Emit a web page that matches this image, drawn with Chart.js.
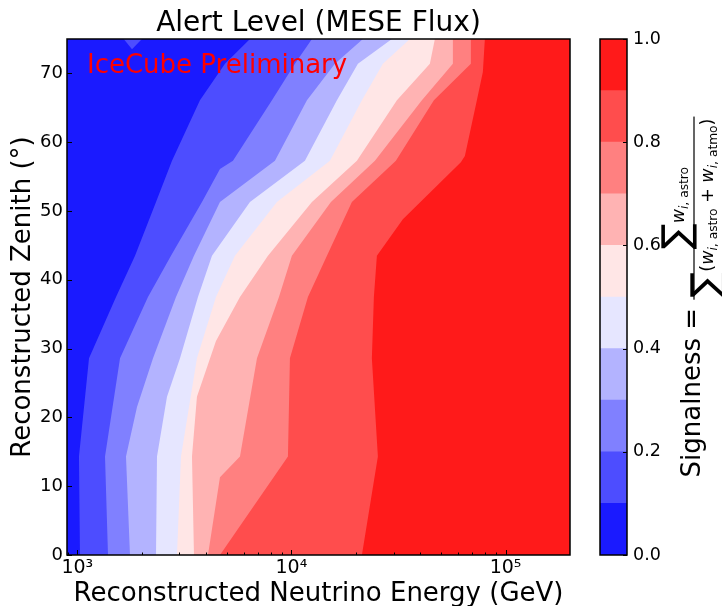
<!DOCTYPE html>
<html>
<head>
<meta charset="utf-8">
<script src="https://cdn.jsdelivr.net/npm/chart.js@4.4.1/dist/chart.umd.min.js"></script>
<style>
  body { margin: 0; background: #fff; }
  #wrap { position: relative; width: 722px; height: 606px; overflow: hidden; }
  #plot { position: absolute; left: 0; top: 0; }
  #cbar { position: absolute; left: 580px; top: 0; }
</style>
</head>
<body>
<div id="wrap">
  <canvas id="plot" width="637" height="606"></canvas>
  <canvas id="cbar" width="142" height="606"></canvas>
</div>
<script>
// contour levels and colours (bwr, 10 bands)
const levels = [0, 0.1, 0.2, 0.3, 0.4, 0.5, 0.6, 0.7, 0.8, 0.9, 1.0];
const bandColors = ['#1a1aff', '#4d4dff', '#8080ff', '#b3b3ff', '#e6e6ff',
                    '#ffe6e6', '#ffb3b3', '#ff8080', '#ff4d4d', '#ff1a1a'];

// axis ranges and ticks
const energyRange = [895, 200000];
const zenithRange = [0, 75];
const xTickValues = [1e3, 1e4, 1e5];
const xTickLabels = ['10³', '10⁴', '10⁵'];
const yTickValues = [0, 10, 20, 30, 40, 50, 60, 70];
const cbTicks = [0, 0.2, 0.4, 0.6, 0.8, 1.0];

// contour boundaries: energy (GeV) where signalness crosses each level, per zenith
const b1Zenith = [0, 14.3, 28.6, 37.5, 43.5, 51.3, 57.3, 66.1, 71.4, 75];
const b1Energy = [1029, 1018, 1134, 1516, 1860, 2331, 2768, 3739, 4892, 6402];

const b2Zenith = [0, 14.3, 28.6, 37.5, 43.5, 51.3, 56.1, 57.3, 66.1, 71.4, 75];
const b2Energy = [1391, 1347, 1583, 2138, 2738, 3821, 4637, 5333, 8110, 10380, 12470];

const b3Zenith = [0, 14.3, 21.5, 28.6, 37.5, 43.5, 51.3, 57.3, 66.1, 71.4, 75];
const b3Energy = [1762, 1688, 1900, 2257, 2890, 3506, 4637, 8376, 11816, 15960, 21570];

const b4Zenith = [0, 14.3, 23, 28.6, 37.5, 43.5, 51.3, 57.3, 66.1, 71.4, 75];
const b4Energy = [2331, 2356, 2623, 3017, 3660, 4255, 6402, 11560, 16310, 20440, 29460];

const b5Zenith = [0, 14.3, 28.6, 37.5, 43.5, 51.3, 57.3, 66.1, 71.4, 75];
const b5Energy = [2921, 3049, 3620, 4442, 5449, 8558, 15130, 21340, 26740, 35740];

const b6Zenith = [0, 14.3, 23, 31.1, 37.5, 43.5, 51.3, 57.3, 66.1, 71.4, 75];
const b6Energy = [3506, 3432, 3620, 4442, 5750, 7769, 12470, 20220, 31090, 44320, 46770];

const b7Zenith = [0, 11.3, 14.3, 28.6, 37.5, 43.5, 51.3, 57.3, 66.1, 71.4, 75];
const b7Energy = [4076, 4637, 5750, 6903, 8744, 10050, 15290, 24540, 40670, 56760, 56760];

const b8Zenith = [0, 14.3, 28.6, 37.5, 43.5, 51.3, 57.3, 66.1, 71.4, 75];
const b8Energy = [4637, 9631, 9840, 11940, 14650, 19160, 30750, 46270, 68870, 68870];

const b9Zenith = [0, 14.3, 28.6, 37.5, 43.5, 48.8, 57.1, 58, 66.1, 70.2, 75];
const b9Energy = [21340, 25340, 23750, 24270, 25070, 33150, 61840, 64570, 73470, 78360, 80060];

// small 0.1-0.2 island at the top edge
const islandZenith = [75, 73.5, 75];
const islandEnergy = [1647, 1801, 2004];

const FONT = '"DejaVu Sans"';
Chart.defaults.font.family = FONT;
Chart.defaults.color = '#000';

// polygons are built from the boundary lists and pushed a bit past the axes
const xOut = energyRange[0] / 2;
const xFar = energyRange[1] * 2;
const zLo = zenithRange[0] - 5;
const zHi = zenithRange[1] + 5;

function leftOf(energy, zenith) {
    const pts = [{x: xOut, y: zLo}, {x: energy[0], y: zLo}];
    energy.forEach((e, i) => pts.push({x: e, y: zenith[i]}));
    pts.push({x: energy[energy.length - 1], y: zHi}, {x: xOut, y: zHi});
    return pts;
}

function band(points, color) {
    return {
        data: points,
        showLine: true,
        fill: 'shape',
        backgroundColor: color,
        borderColor: 'rgba(0,0,0,0)',
        borderWidth: 0,
        pointRadius: 0,
        tension: 0,
        clip: 0
    };
}

const bounds = [
    [b1Energy, b1Zenith], [b2Energy, b2Zenith], [b3Energy, b3Zenith],
    [b4Energy, b4Zenith], [b5Energy, b5Zenith], [b6Energy, b6Zenith],
    [b7Energy, b7Zenith], [b8Energy, b8Zenith], [b9Energy, b9Zenith]
];

// dataset 0 is painted last, so the island goes first and the full red area last
const islandPts = islandEnergy.map((e, i) => ({x: e, y: islandZenith[i]}));
islandPts.push({x: islandEnergy[islandEnergy.length - 1], y: zHi}, {x: islandEnergy[0], y: zHi});

const datasets = [band(islandPts, bandColors[1])];
bounds.forEach(([e, z], i) => datasets.push(band(leftOf(e, z), bandColors[i])));
datasets.push(band([{x: xOut, y: zLo}, {x: xFar, y: zLo}, {x: xFar, y: zHi}, {x: xOut, y: zHi}], bandColors[9]));

// frame, inward ticks and the preliminary tag
const plotDeco = {
    id: 'plotDeco',
    afterDatasetsDraw(chart) {
        const ctx = chart.ctx;
        ctx.save();
        ctx.font = '26px ' + FONT;
        ctx.fillStyle = '#ff0000';
        ctx.textBaseline = 'alphabetic';
        ctx.fillText('IceCube Preliminary', 87, 73);
        ctx.restore();
    },
    afterDraw(chart) {
        const ctx = chart.ctx;
        const a = chart.chartArea;
        const sx = chart.scales.x, sy = chart.scales.y;
        ctx.save();
        ctx.strokeStyle = '#000';
        ctx.lineWidth = 1;
        ctx.beginPath();
        xTickValues.forEach(v => {
            const px = Math.round(sx.getPixelForValue(v)) + 0.5;
            ctx.moveTo(px, a.bottom); ctx.lineTo(px, a.bottom - 5);
        });
        for (let d = 100; d < energyRange[1]; d *= 10) {
            for (let k = 2; k <= 9; k++) {
                const v = k * d;
                if (v <= energyRange[0] || v >= energyRange[1]) continue;
                const px = Math.round(sx.getPixelForValue(v)) + 0.5;
                ctx.moveTo(px, a.bottom); ctx.lineTo(px, a.bottom - 2.5);
            }
        }
        yTickValues.forEach(v => {
            const py = Math.round(sy.getPixelForValue(v)) + 0.5;
            ctx.moveTo(a.left, py); ctx.lineTo(a.left + 5, py);
        });
        ctx.stroke();
        ctx.lineWidth = 1.5;
        ctx.strokeRect(a.left, a.top, a.right - a.left, a.bottom - a.top);
        ctx.restore();
    }
};

new Chart(document.getElementById('plot'), {
    type: 'scatter',
    data: { datasets },
    options: {
        responsive: false,
        animation: false,
        events: [],
        layout: { padding: { left: 0, right: 67, top: 0, bottom: 0 } },
        plugins: {
            legend: { display: false },
            tooltip: { enabled: false },
            title: {
                display: true,
                fullSize: false,
                text: 'Alert Level (MESE Flux)',
                color: '#000',
                font: { size: 28, weight: 'normal', lineHeight: 1 },
                padding: { top: 10, bottom: 1 }
            }
        },
        scales: {
            x: {
                type: 'logarithmic',
                min: energyRange[0],
                max: energyRange[1],
                grid: { display: false, drawTicks: false },
                border: { display: false },
                afterBuildTicks: s => { s.ticks = xTickValues.map(v => ({ value: v })); },
                afterFit: s => { s.height = 51; },
                ticks: {
                    autoSkip: false, maxRotation: 0, padding: 2,
                    font: { size: 19 },
                    callback: (v, i) => xTickLabels[i]
                },
                title: {
                    display: true,
                    text: 'Reconstructed Neutrino Energy (GeV)',
                    font: { size: 26 },
                    padding: { top: 0, bottom: -3.5 }
                }
            },
            y: {
                type: 'linear',
                min: zenithRange[0],
                max: zenithRange[1],
                grid: { display: false, drawTicks: false },
                border: { display: false },
                afterBuildTicks: s => { s.ticks = yTickValues.map(v => ({ value: v })); },
                afterFit: s => { s.width = 67; },
                ticks: { padding: 4, font: { size: 18 }, callback: v => String(v) },
                title: {
                    display: true,
                    text: 'Reconstructed Zenith (°)',
                    font: { size: 26 },
                    padding: { top: 7.6, bottom: 0 }
                }
            }
        }
    },
    plugins: [plotDeco]
});

// ---- colour bar ----
const mainFont = '26px ' + FONT;
const fracFont = '17.5px ' + FONT;
const fracIt = 'italic 17.5px ' + FONT;
const subFont = '12.25px ' + FONT;
const subIt = 'italic 12.25px ' + FONT;

function piecesWidth(ctx, pieces) {
    let w = 0;
    pieces.forEach(p => { ctx.font = p.font; w += ctx.measureText(p.text).width; });
    return w;
}

function drawPieces(ctx, pieces, u, v) {
    pieces.forEach(p => {
        ctx.font = p.font;
        ctx.textBaseline = p.base || 'alphabetic';
        ctx.fillText(p.text, u, v + (p.dv || 0));
        u += ctx.measureText(p.text).width;
    });
}

const cbDeco = {
    id: 'cbDeco',
    afterDraw(chart) {
        const ctx = chart.ctx;
        const a = chart.chartArea;
        const sy = chart.scales.y;
        ctx.save();
        ctx.strokeStyle = '#000';
        ctx.lineWidth = 1;
        ctx.beginPath();
        cbTicks.forEach(v => {
            const py = Math.round(sy.getPixelForValue(v)) + 0.5;
            ctx.moveTo(a.right, py); ctx.lineTo(a.right - 4, py);
        });
        ctx.stroke();
        ctx.lineWidth = 1.5;
        ctx.strokeRect(a.left, a.top, a.right - a.left, a.bottom - a.top);

        // label: Signalness = sum w_astro / sum (w_astro + w_atmo)
        ctx.font = '100px ' + FONT;
        const sigSize = 26 / ctx.measureText('∑').width * 100;
        const sigFont = sigSize.toFixed(1) + 'px ' + FONT;
        const num = [
            { text: '∑', font: sigFont, base: 'middle', dv: -5 },
            { text: 'w', font: fracIt },
            { text: 'i', font: subIt, dv: 4 },
            { text: ', astro', font: subFont, dv: 4 }
        ];
        const den = [
            { text: '∑', font: sigFont, base: 'middle', dv: -5 },
            { text: '(', font: fracFont },
            { text: 'w', font: fracIt },
            { text: 'i', font: subIt, dv: 4 },
            { text: ', astro', font: subFont, dv: 4 },
            { text: ' + ', font: fracFont },
            { text: 'w', font: fracIt },
            { text: 'i', font: subIt, dv: 4 },
            { text: ', atmo', font: subFont, dv: 4 },
            { text: ')', font: fracFont }
        ];
        const barX = 114;
        const cy = (a.top + a.bottom) / 2;
        ctx.translate(barX, cy);
        ctx.rotate(-Math.PI / 2);
        ctx.fillStyle = '#000';
        ctx.font = mainFont;
        const lead = 'Signalness = ';
        const leadW = ctx.measureText(lead).width;
        const numW = piecesWidth(ctx, num);
        const denW = piecesWidth(ctx, den);
        const fracW = Math.max(numW, denW) + 4;
        const u0 = -(leadW + fracW) / 2;
        ctx.font = mainFont;
        ctx.textBaseline = 'alphabetic';
        ctx.fillText(lead, u0, 6);
        const f0 = u0 + leadW;
        ctx.fillRect(f0, -0.6, fracW, 1.2);
        drawPieces(ctx, num, f0 + (fracW - numW) / 2, -10);
        drawPieces(ctx, den, f0 + (fracW - denW) / 2, 19);
        ctx.restore();
    }
};

new Chart(document.getElementById('cbar'), {
    type: 'bar',
    data: {
        labels: [''],
        datasets: bandColors.map((c, i) => ({
            data: [[levels[i], levels[i + 1]]],
            backgroundColor: c,
            borderWidth: 0,
            barPercentage: 1,
            categoryPercentage: 1,
            grouped: false
        }))
    },
    options: {
        responsive: false,
        animation: false,
        events: [],
        layout: { padding: { left: 20, right: 0, top: 39, bottom: 51 } },
        plugins: { legend: { display: false }, tooltip: { enabled: false } },
        scales: {
            x: { display: false },
            y: {
                position: 'right',
                min: 0,
                max: 1,
                grid: { display: false, drawTicks: false },
                border: { display: false },
                afterBuildTicks: s => { s.ticks = cbTicks.map(v => ({ value: v })); },
                afterFit: s => { s.width = 95; },
                ticks: { padding: 6, font: { size: 17.5 }, callback: v => v.toFixed(1) }
            }
        }
    },
    plugins: [cbDeco]
});
</script>
</body>
</html>
